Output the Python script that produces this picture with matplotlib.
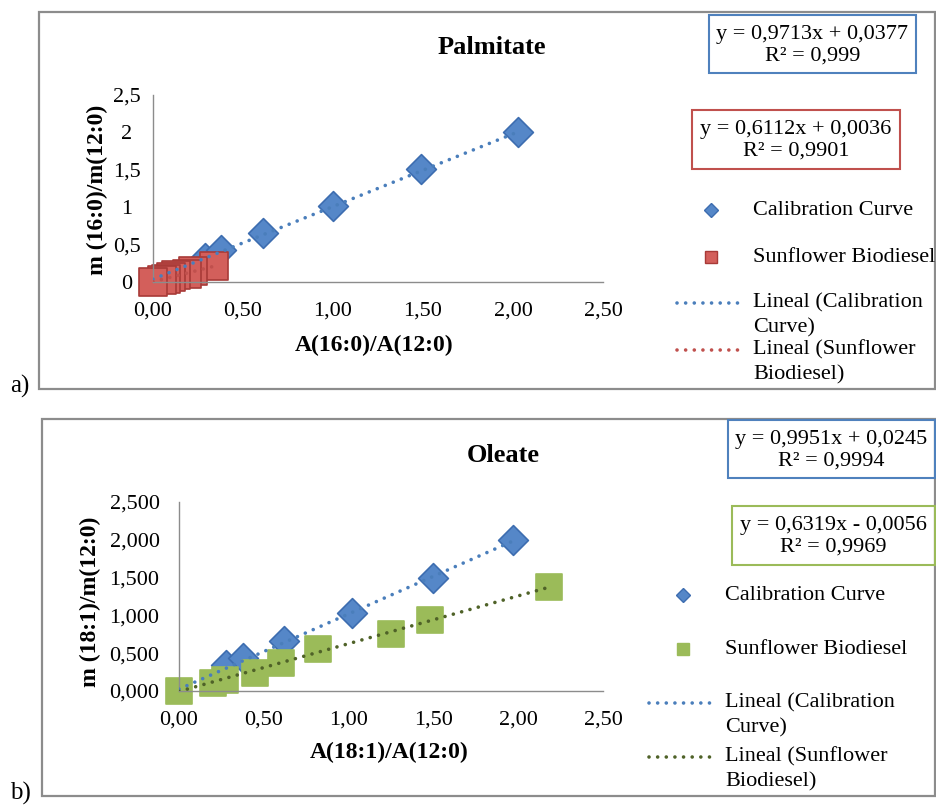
import matplotlib.pyplot as plt
import numpy as np
from matplotlib.patches import Rectangle

plt.rcParams['font.family'] = ['Liberation Serif', 'DejaVu Serif']

# ---- panel a: palmitate ----
cal_a_x = [0.29, 0.38, 0.61, 1.00, 1.49, 2.03]
cal_a_y = [0.32, 0.43, 0.65, 1.02, 1.51, 2.01]
sun_a_x = [0.00, 0.05, 0.07, 0.10, 0.13, 0.19, 0.22, 0.34]
sun_a_y = [0.00, 0.03, 0.04, 0.07, 0.09, 0.11, 0.15, 0.21]
fit_a_cal = (0.9713, 0.0377, '0,999')
fit_a_sun = (0.6112, 0.0036, '0,9901')

# ---- panel b: oleate ----
cal_b_x = [0.28, 0.38, 0.62, 1.02, 1.50, 1.97]
cal_b_y = [0.34, 0.43, 0.66, 1.03, 1.50, 2.00]
sun_b_x = [0.00, 0.20, 0.27, 0.45, 0.60, 0.82, 1.25, 1.48, 2.18]
sun_b_y = [0.00, 0.11, 0.15, 0.24, 0.37, 0.56, 0.75, 0.94, 1.38]
fit_b_cal = (0.9951, 0.0245, '0,9994')
fit_b_sun = (0.6319, -0.0056, '0,9969')

xticks = [0, 0.5, 1.0, 1.5, 2.0, 2.5]
yticks = [0, 0.5, 1.0, 1.5, 2.0, 2.5]
W, H = 937, 805

blue = '#5587C8'
blue_edge = '#3D6DB0'
blue_line = '#4A7EBB'
red = '#D35F5B'
red_edge = '#A83A37'
green = '#9BBB59'

fig = plt.figure(figsize=(W / 100, H / 100), dpi=100)


def fx(px):
    return px / W


def fy(py):
    return 1 - py / H


def comma(v, nd):
    return ('%.*f' % (nd, v)).replace('.', ',')


def eq_text(fit):
    m, b, r2 = fit
    sign = '+' if b >= 0 else '-'
    return 'y = %sx %s %s\nR\u00b2 = %s' % (comma(m, 4), sign, comma(abs(b), 4), r2)


def dotted(lw):
    return dict(ls=(0, (0.01, 8.6 * 0.72 / lw)), lw=lw, dash_capstyle='round')


def panel(frame, axbox, title, title_xy, xlab, xlab_xy, ylab, ylab_xy, cal, sun,
          fits, sun_style, line2_color, yfmt, ytick_align, boxes, legend_ys,
          marker_x, label, sun_reverse):
    # outer frame
    x0, y0, x1, y1 = frame
    fig.patches.append(Rectangle((fx(x0), fy(y1)), fx(x1 - x0), (y1 - y0) / H,
                                 transform=fig.transFigure, fill=False,
                                 edgecolor='#8C8C8C', linewidth=1.6))
    fig.text(fx(10), fy(y1 - 3), label, fontsize=18, ha='left', va='center',
             family='Liberation Serif')

    l, t, r, b = axbox
    ax = fig.add_axes([fx(l), fy(b), fx(r - l), (b - t) / H])
    ax.set_xlim(0, 2.5)
    ax.set_ylim(0, 2.5)
    for s in ['top', 'right']:
        ax.spines[s].set_visible(False)
    for s in ['left', 'bottom']:
        ax.spines[s].set_color('#8C8C8C')
        ax.spines[s].set_linewidth(1.0)
    ax.set_xticks(xticks)
    ax.set_xticklabels([comma(v, 2) for v in xticks], fontsize=16)
    ax.set_yticks(yticks)
    ax.set_yticklabels([yfmt(v) for v in yticks], fontsize=16,
                       ha=ytick_align[0])
    ax.tick_params(axis='x', length=0, pad=14)
    ax.tick_params(axis='y', length=0, pad=ytick_align[1])
    ax.patch.set_alpha(0)

    (cx, cy), (sx, sy) = cal, sun
    fc, fs = fits
    xx = np.array([0, max(cx)])
    ax.plot(xx, fc[0] * xx + fc[1], color=blue_line, zorder=3, **dotted(2.6))
    xs = np.array([0, max(sx)])
    ax.plot(xs, fs[0] * xs + fs[1], color=line2_color, zorder=4, **dotted(2.6))
    ax.scatter(cx, cy, marker='D', s=230, color=blue, edgecolor=blue_edge,
               linewidth=1.2, zorder=2, clip_on=False)
    if sun_reverse:
        sx, sy = sx[::-1], sy[::-1]
    ax.scatter(sx, sy, marker='s', s=sun_style[2], color=sun_style[0],
               edgecolor=sun_style[1], linewidth=1.2, zorder=2, clip_on=False)

    fig.text(fx(xlab_xy[0]), fy(xlab_xy[1]), xlab, fontsize=17,
             fontweight='bold', ha='center', va='center')
    fig.text(fx(ylab_xy[0]), fy(ylab_xy[1]), ylab, rotation=90, fontsize=17,
             fontweight='bold', ha='center', va='center')
    fig.text(fx(title_xy[0]), fy(title_xy[1]), title, fontsize=19,
             fontweight='bold', ha='center', va='center')

    # equation boxes
    for (bx0, by0, bx1, by1), col, fit in boxes:
        fig.patches.append(Rectangle((fx(bx0), fy(by1)), fx(bx1 - bx0),
                                     (by1 - by0) / H, transform=fig.transFigure,
                                     fill=False, edgecolor=col, linewidth=1.5))
        fig.text(fx((bx0 + bx1) / 2), fy((by0 + by1) / 2 + 1), eq_text(fit),
                 fontsize=16, ha='center', va='center', linespacing=1.2)

    # legend
    ly = legend_ys
    tx = marker_x + 42
    fig.lines.append(plt.Line2D([fx(marker_x)], [fy(ly[0])], marker='D',
                                markersize=7, color=blue,
                                markeredgecolor=blue_edge,
                                transform=fig.transFigure))
    fig.text(fx(tx), fy(ly[0]), 'Calibration Curve', fontsize=16, va='center')
    fig.lines.append(plt.Line2D([fx(marker_x)], [fy(ly[1])], marker='s',
                                markersize=8.5, color=sun_style[0],
                                markeredgecolor=sun_style[1],
                                transform=fig.transFigure))
    fig.text(fx(tx), fy(ly[1]), 'Sunflower Biodiesel', fontsize=16, va='center')
    for yy, col, txt in [(ly[2], blue_line, ['Lineal (Calibration', 'Curve)']),
                         (ly[3], line2_color, ['Lineal (Sunflower', 'Biodiesel)'])]:
        fig.lines.append(plt.Line2D([fx(marker_x - 34), fx(marker_x + 28)],
                                    [fy(yy), fy(yy)], color=col,
                                    transform=fig.transFigure, **dotted(2.6)))
        fig.text(fx(tx), fy(yy), txt[0], fontsize=16, va='center')
        fig.text(fx(tx), fy(yy + 25), txt[1], fontsize=16, va='center')
    return ax


panel(frame=(39, 12, 935, 389), axbox=(153, 95, 603, 282),
      title='Palmitate', title_xy=(492, 48),
      xlab='A(16:0)/A(12:0)', xlab_xy=(374, 345),
      ylab='m (16:0)/m(12:0)', ylab_xy=(97, 190),
      cal=(cal_a_x, cal_a_y), sun=(sun_a_x, sun_a_y),
      fits=(fit_a_cal, fit_a_sun),
      sun_style=(red, red_edge, 390), line2_color='#C0504D',
      yfmt=lambda v: ('%g' % v).replace('.', ','), ytick_align=('center', 19),
      boxes=[((709, 15, 916, 73), '#4F81BD', fit_a_cal),
             ((692, 110, 900, 169), '#C0504D', fit_a_sun)],
      legend_ys=[210, 257, 303, 350], marker_x=711, label='a)',
      sun_reverse=True)

panel(frame=(42, 419, 935, 796), axbox=(179, 502, 603, 691),
      title='Oleate', title_xy=(503, 455),
      xlab='A(18:1)/A(12:0)', xlab_xy=(389, 752),
      ylab='m (18:1)/m(12:0)', ylab_xy=(90, 602),
      cal=(cal_b_x, cal_b_y), sun=(sun_b_x, sun_b_y),
      fits=(fit_b_cal, fit_b_sun),
      sun_style=(green, green, 350), line2_color='#4F6228',
      yfmt=lambda v: comma(v, 3), ytick_align=('right', 14),
      boxes=[((728, 420, 935, 478), '#4F81BD', fit_b_cal),
             ((732, 506, 935, 565), '#9BBB59', fit_b_sun)],
      legend_ys=[595, 649, 703, 757], marker_x=683, label='b)',
      sun_reverse=False)

fig.savefig('out.png', dpi=100)
